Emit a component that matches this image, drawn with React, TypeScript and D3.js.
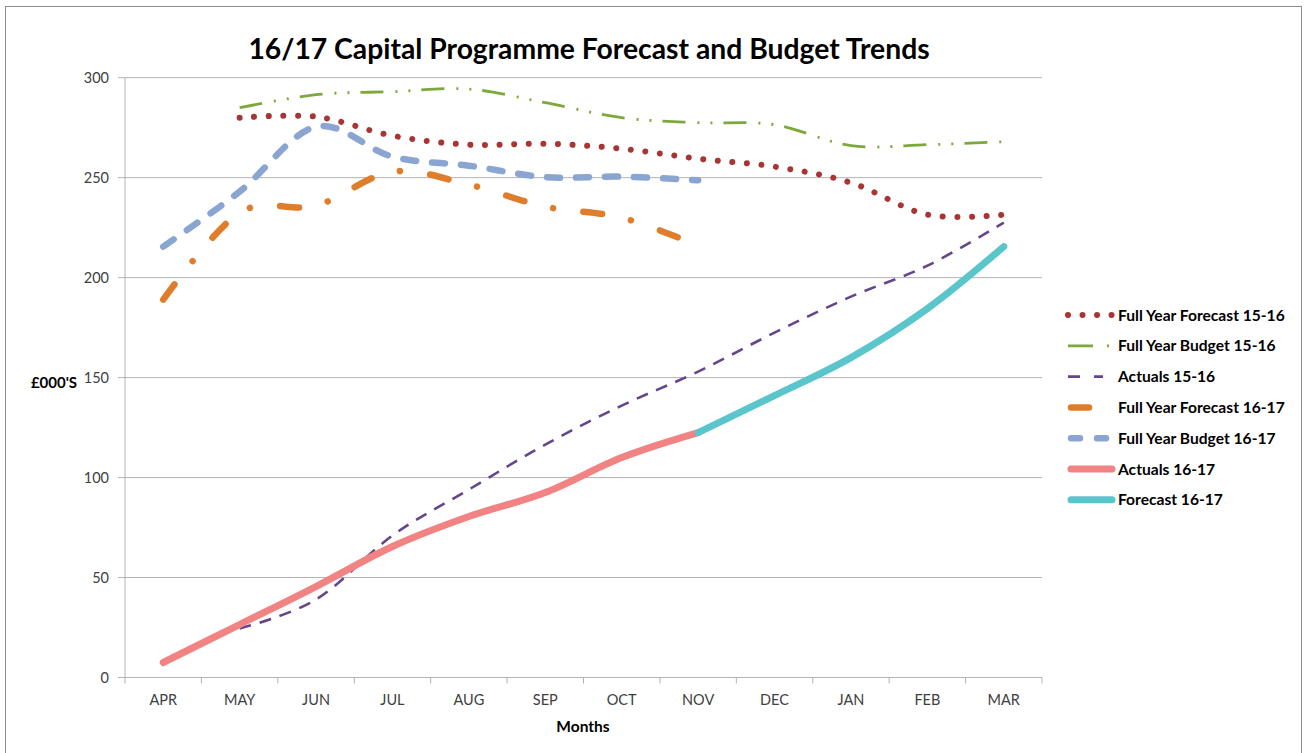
import React from "react";
import * as d3 from "d3";

const months = ["APR", "MAY", "JUN", "JUL", "AUG", "SEP", "OCT", "NOV", "DEC", "JAN", "FEB", "MAR"];
const yTicks = [0, 50, 100, 150, 200, 250, 300];

const forecast1516: (number | null)[] = [null, 280, 280.5, 271, 266.5, 267, 264.5, 259.5, 255.5, 247.5, 231.5, 231.5];
const budget1516: (number | null)[] = [null, 285, 291.5, 293, 294.3, 287.5, 280, 277.5, 276.5, 266, 266.5, 268];
const actuals1516: (number | null)[] = [null, 24.5, 39, 71, 94, 116.5, 136, 153, 172.5, 190.5, 206, 227.5];
const forecast1617: (number | null)[] = [189, 232.5, 236, 253, 246.5, 235.5, 230, 216, null, null, null, null];
const budget1617: (number | null)[] = [215.5, 243, 275.5, 260.5, 256, 250.3, 250.5, 248.7, null, null, null, null];
const actuals1617: (number | null)[] = [7.5, 26.5, 45.5, 65.5, 80.5, 92.5, 110, 122.5, null, null, null, null];
const fcast1617: (number | null)[] = [null, null, null, null, null, null, null, 122.5, 141, 160, 184.5, 215.5];

type Series = {
  name: string;
  values: (number | null)[];
  color: string;
  width: number;
  dash?: string;
  cap: "round" | "butt";
  lx1: number;
  lx2: number;
  ldash?: string;
};

const series: Series[] = [
  { name: "Full Year Forecast 15-16", values: forecast1516, color: "#A93434", width: 6, dash: "0.01 14.6", cap: "round", lx1: 1068, lx2: 1113, ldash: "0.01 14.5" },
  { name: "Full Year Budget 15-16", values: budget1516, color: "#7DA83C", width: 2.8, dash: "23 12 2 11 2 11", cap: "butt", lx1: 1068, lx2: 1110, ldash: "25 14 2 100" },
  { name: "Actuals 15-16", values: actuals1516, color: "#64468C", width: 2.6, dash: "12 9", cap: "butt", lx1: 1068, lx2: 1103, ldash: "12 14" },
  { name: "Full Year Forecast 16-17", values: forecast1617, color: "#E07D2A", width: 6.5, dash: "19 29.5 0.01 30.5", cap: "round", lx1: 1071, lx2: 1089 },
  { name: "Full Year Budget 16-17", values: budget1617, color: "#8AA5D1", width: 6.5, dash: "13 16", cap: "round", lx1: 1071, lx2: 1108, ldash: "9 17" },
  { name: "Actuals 16-17", values: actuals1617, color: "#F28383", width: 7, cap: "round", lx1: 1071, lx2: 1112 },
  { name: "Forecast 16-17", values: fcast1617, color: "#5AC6CC", width: 7, cap: "round", lx1: 1071, lx2: 1112 },
];

const FONT = "Lato, 'Open Sans', sans-serif";

export default function App() {
  const left = 125, right = 1042, top = 77.7, bottom = 677.5;
  const x = d3.scaleBand<string>().domain(months).range([left, right]).padding(0);
  const y = d3.scaleLinear().domain([0, 300]).range([bottom, top]);
  const cx = (m: string) => (x(m) as number) + x.bandwidth() / 2;

  const line = d3
    .line<number | null>()
    .defined((d) => d !== null)
    .x((_, i) => cx(months[i]))
    .y((d) => y(d as number))
    .curve(d3.curveCardinal.tension(0));

  const bounds = months.map((m) => x(m) as number).concat([right]);
  const legendY0 = 315, legendStep = 30.8;

  return (
    <svg width={1304} height={753} style={{ position: "absolute", left: 0, top: 0, background: "#fff" }} fontFamily={FONT}>
      <rect x={5.5} y={6.5} width={1296} height={770} fill="#fff" stroke="#8c8c8c" strokeWidth={1} />
      <text x={589} y={59} textAnchor="middle" fontSize={28.3} fontWeight="bold" fill="#000">
        16/17 Capital Programme Forecast and Budget Trends
      </text>
      {yTicks.map((t) => (
        <g key={t}>
          <line x1={left - 7} x2={right} y1={y(t)} y2={y(t)} stroke="#b3b3b3" strokeWidth={1} />
          <text x={109} y={y(t) + 5} textAnchor="end" fontSize={14.5} fill="#404040">
            {t}
          </text>
        </g>
      ))}
      <line x1={left} x2={left} y1={top} y2={bottom} stroke="#b3b3b3" strokeWidth={1} />
      {bounds.map((b, i) => (
        <line key={i} x1={b} x2={b} y1={bottom} y2={bottom + 6} stroke="#b3b3b3" strokeWidth={1} />
      ))}
      {months.map((m) => (
        <text key={m} x={cx(m)} y={705} textAnchor="middle" fontSize={14.5} fill="#404040">
          {m}
        </text>
      ))}
      <text x={583} y={732} textAnchor="middle" fontSize={15.5} fontWeight="bold" fill="#000">
        Months
      </text>
      <text x={54} y={388} textAnchor="middle" fontSize={15} fontWeight="bold" fill="#000">
        £000'S
      </text>
      {series.map((s) => (
        <path
          key={s.name}
          d={line(s.values) || ""}
          fill="none"
          stroke={s.color}
          strokeWidth={s.width}
          strokeDasharray={s.dash}
          strokeLinecap={s.cap}
          strokeLinejoin="round"
        />
      ))}
      {series.map((s, i) => {
        const ly = legendY0 + i * legendStep;
        return (
          <g key={s.name}>
            <line
              x1={s.lx1}
              x2={s.lx2}
              y1={ly}
              y2={ly}
              stroke={s.color}
              strokeWidth={s.width}
              strokeDasharray={s.ldash}
              strokeLinecap={s.cap}
            />
            <text x={1118} y={ly + 5.5} fontSize={15.6} fontWeight="bold" fill="#000">
              {s.name}
            </text>
          </g>
        );
      })}
    </svg>
  );
}
